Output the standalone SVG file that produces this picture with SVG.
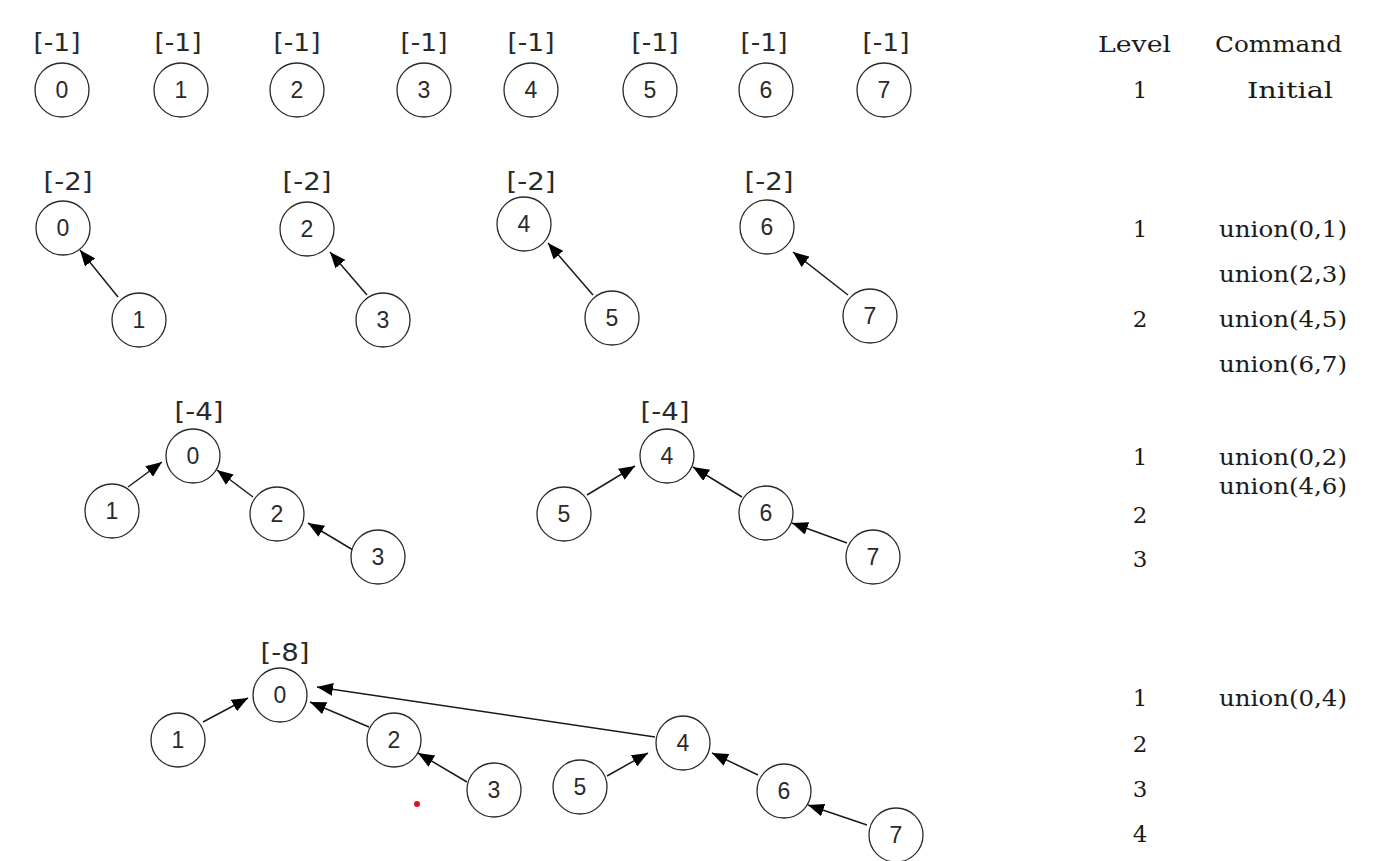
<svg xmlns="http://www.w3.org/2000/svg" width="1384" height="861" viewBox="0 0 1384 861">
<style>
.bg{fill:#ffffff}
.nd circle{fill:#ffffff;stroke:#2a2a2a;stroke-width:1.3}
.nd text{font-family:"Liberation Sans",Arial,sans-serif;font-size:23px;fill:#2a2a2a;text-anchor:middle}
.nd text.lbl{font-family:"DejaVu Sans","Liberation Sans",sans-serif;font-size:24px;fill:#2a2a2a;text-anchor:middle}
.edge{stroke:#1a1a1a;stroke-width:1.5;fill:none;marker-end:url(#ah)}
.tbl{font-family:"DejaVu Serif","Liberation Serif",serif;font-size:23px;fill:#1a1a1a}
.num{text-anchor:middle}
</style>
<defs>
<marker id="ah" markerUnits="userSpaceOnUse" markerWidth="17" markerHeight="13" refX="16" refY="6.5" orient="auto" viewBox="0 0 17 13">
<path d="M0,0 L16,6.5 L0,13 z" fill="#000000"/>
</marker>
</defs>
<rect class="bg" x="0" y="0" width="1384" height="861"/>

<g id="connectors">
<line class="edge" x1="118" y1="297" x2="80" y2="250"/>
<line class="edge" x1="367" y1="295" x2="330" y2="252"/>
<line class="edge" x1="593" y1="295" x2="548" y2="243"/>
<line class="edge" x1="848" y1="295" x2="793" y2="252"/>

<line class="edge" x1="128" y1="487" x2="162" y2="462"/>
<line class="edge" x1="253" y1="497" x2="217" y2="470"/>
<line class="edge" x1="353" y1="550" x2="308" y2="523"/>
<line class="edge" x1="587" y1="495" x2="635" y2="466"/>
<line class="edge" x1="742" y1="497" x2="693" y2="467"/>
<line class="edge" x1="847" y1="543" x2="792" y2="523"/>

<line class="edge" x1="203" y1="722" x2="248" y2="698"/>
<line class="edge" x1="369" y1="727" x2="310" y2="702"/>
<line class="edge" x1="655" y1="737" x2="317" y2="687"/>
<line class="edge" x1="467" y1="782" x2="418" y2="753"/>
<line class="edge" x1="607" y1="776" x2="648" y2="753"/>
<line class="edge" x1="758" y1="775" x2="712" y2="753"/>
<line class="edge" x1="867" y1="825" x2="808" y2="805"/>
</g>

<!-- Row 1 -->
<g id="r1n0" class="nd"><text class="lbl" x="57" y="51" textLength="47" lengthAdjust="spacingAndGlyphs">[-1]</text><circle cx="62" cy="90" r="27"/><text x="62" y="98">0</text></g>
<g id="r1n1" class="nd"><text class="lbl" x="178" y="51" textLength="47" lengthAdjust="spacingAndGlyphs">[-1]</text><circle cx="181" cy="90" r="27"/><text x="181" y="98">1</text></g>
<g id="r1n2" class="nd"><text class="lbl" x="297" y="51" textLength="47" lengthAdjust="spacingAndGlyphs">[-1]</text><circle cx="297" cy="90" r="27"/><text x="297" y="98">2</text></g>
<g id="r1n3" class="nd"><text class="lbl" x="424" y="51" textLength="47" lengthAdjust="spacingAndGlyphs">[-1]</text><circle cx="424" cy="90" r="27"/><text x="424" y="98">3</text></g>
<g id="r1n4" class="nd"><text class="lbl" x="531" y="51" textLength="47" lengthAdjust="spacingAndGlyphs">[-1]</text><circle cx="531" cy="90" r="27"/><text x="531" y="98">4</text></g>
<g id="r1n5" class="nd"><text class="lbl" x="655" y="51" textLength="47" lengthAdjust="spacingAndGlyphs">[-1]</text><circle cx="650" cy="90" r="27"/><text x="650" y="98">5</text></g>
<g id="r1n6" class="nd"><text class="lbl" x="764" y="51" textLength="47" lengthAdjust="spacingAndGlyphs">[-1]</text><circle cx="766" cy="90" r="27"/><text x="766" y="98">6</text></g>
<g id="r1n7" class="nd"><text class="lbl" x="886" y="51" textLength="47" lengthAdjust="spacingAndGlyphs">[-1]</text><circle cx="884" cy="90" r="27"/><text x="884" y="98">7</text></g>

<!-- Row 2 -->
<g id="r2n0" class="nd"><text class="lbl" x="68" y="190" textLength="49" lengthAdjust="spacingAndGlyphs">[-2]</text><circle cx="63" cy="228" r="27"/><text x="63" y="236">0</text></g>
<g id="r2n1" class="nd"><circle cx="139" cy="320" r="27"/><text x="139" y="328">1</text></g>
<g id="r2n2" class="nd"><text class="lbl" x="307" y="190" textLength="49" lengthAdjust="spacingAndGlyphs">[-2]</text><circle cx="307" cy="229" r="27"/><text x="307" y="237">2</text></g>
<g id="r2n3" class="nd"><circle cx="383" cy="320" r="27"/><text x="383" y="328">3</text></g>
<g id="r2n4" class="nd"><text class="lbl" x="531" y="190" textLength="49" lengthAdjust="spacingAndGlyphs">[-2]</text><circle cx="524" cy="224" r="27"/><text x="524" y="232">4</text></g>
<g id="r2n5" class="nd"><circle cx="612" cy="318" r="27"/><text x="612" y="326">5</text></g>
<g id="r2n6" class="nd"><text class="lbl" x="769" y="190" textLength="49" lengthAdjust="spacingAndGlyphs">[-2]</text><circle cx="767" cy="227" r="27"/><text x="767" y="235">6</text></g>
<g id="r2n7" class="nd"><circle cx="870" cy="316" r="27"/><text x="870" y="324">7</text></g>

<!-- Row 3 -->
<g id="r3n0" class="nd"><text class="lbl" x="199" y="420" textLength="49" lengthAdjust="spacingAndGlyphs">[-4]</text><circle cx="193" cy="456" r="27"/><text x="193" y="464">0</text></g>
<g id="r3n1" class="nd"><circle cx="112" cy="511" r="27"/><text x="112" y="519">1</text></g>
<g id="r3n2" class="nd"><circle cx="277" cy="514" r="27"/><text x="277" y="522">2</text></g>
<g id="r3n3" class="nd"><circle cx="378" cy="557" r="27"/><text x="378" y="565">3</text></g>
<g id="r3n4" class="nd"><text class="lbl" x="665" y="420" textLength="49" lengthAdjust="spacingAndGlyphs">[-4]</text><circle cx="667" cy="456" r="27"/><text x="667" y="464">4</text></g>
<g id="r3n5" class="nd"><circle cx="564" cy="514" r="27"/><text x="564" y="522">5</text></g>
<g id="r3n6" class="nd"><circle cx="766" cy="513" r="27"/><text x="766" y="521">6</text></g>
<g id="r3n7" class="nd"><circle cx="873" cy="557" r="27"/><text x="873" y="565">7</text></g>

<!-- Row 4 -->
<g id="r4n0" class="nd"><text class="lbl" x="285" y="661" textLength="49" lengthAdjust="spacingAndGlyphs">[-8]</text><circle cx="280" cy="695" r="27"/><text x="280" y="703">0</text></g>
<g id="r4n1" class="nd"><circle cx="178" cy="740" r="27"/><text x="178" y="748">1</text></g>
<g id="r4n2" class="nd"><circle cx="394" cy="740" r="27"/><text x="394" y="748">2</text></g>
<g id="r4n3" class="nd"><circle cx="494" cy="790" r="27"/><text x="494" y="798">3</text></g>
<g id="r4n4" class="nd"><circle cx="683" cy="743" r="27"/><text x="683" y="751">4</text></g>
<g id="r4n5" class="nd"><circle cx="580" cy="787" r="27"/><text x="580" y="795">5</text></g>
<g id="r4n6" class="nd"><circle cx="784" cy="791" r="27"/><text x="784" y="799">6</text></g>
<g id="r4n7" class="nd"><circle cx="896" cy="835" r="27"/><text x="896" y="843">7</text></g>

<circle id="reddot" cx="417" cy="804" r="3" fill="#e01020"/>

<g id="table" class="tbl">
<text x="1098" y="52" textLength="73" lengthAdjust="spacingAndGlyphs">Level</text>
<text x="1215" y="52" textLength="127" lengthAdjust="spacingAndGlyphs">Command</text>
<text class="num" x="1140" y="98">1</text>
<text x="1247" y="98" textLength="86" lengthAdjust="spacingAndGlyphs">Initial</text>
<text class="num" x="1140" y="237">1</text>
<text x="1219" y="237" textLength="128" lengthAdjust="spacingAndGlyphs">union(0,1)</text>
<text x="1219" y="282" textLength="128" lengthAdjust="spacingAndGlyphs">union(2,3)</text>
<text class="num" x="1140" y="327">2</text>
<text x="1219" y="327" textLength="128" lengthAdjust="spacingAndGlyphs">union(4,5)</text>
<text x="1219" y="372" textLength="128" lengthAdjust="spacingAndGlyphs">union(6,7)</text>
<text class="num" x="1140" y="465">1</text>
<text x="1219" y="465" textLength="128" lengthAdjust="spacingAndGlyphs">union(0,2)</text>
<text x="1219" y="494" textLength="128" lengthAdjust="spacingAndGlyphs">union(4,6)</text>
<text class="num" x="1140" y="523">2</text>
<text class="num" x="1140" y="567">3</text>
<text class="num" x="1140" y="706">1</text>
<text x="1219" y="706" textLength="128" lengthAdjust="spacingAndGlyphs">union(0,4)</text>
<text class="num" x="1140" y="752">2</text>
<text class="num" x="1140" y="797">3</text>
<text class="num" x="1140" y="842">4</text>
</g>
</svg>
